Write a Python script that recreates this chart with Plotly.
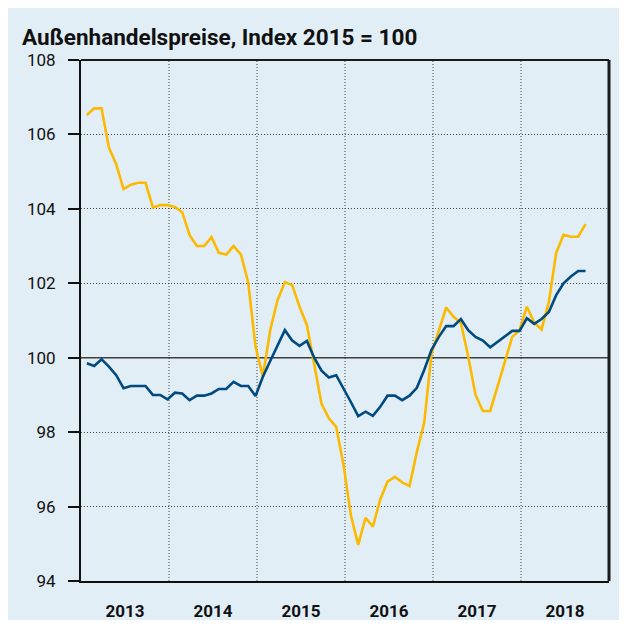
import plotly.graph_objects as go

# Monthly data, Jan 2013 - Sep 2018
years = [2013, 2014, 2015, 2016, 2017, 2018]
months = [f"{y}-{m:02d}" for y in years for m in range(1, 13)][:69]

import_prices = [
    106.52, 106.70, 106.70, 105.65, 105.20, 104.53, 104.65, 104.70, 104.70, 104.04, 104.10, 104.10,
    104.05, 103.91, 103.30, 103.00, 103.00, 103.24, 102.82, 102.77, 103.00, 102.78, 102.02, 100.30,
    99.49, 100.74, 101.55, 102.03, 101.95, 101.37, 100.88, 99.85, 98.76, 98.37, 98.14, 97.12,
    95.77, 94.97, 95.70, 95.46, 96.19, 96.67, 96.80, 96.65, 96.55, 97.47, 98.25, 100.12,
    100.74, 101.35, 101.10, 100.94, 100.03, 99.00, 98.57, 98.57, 99.22, 99.88, 100.56, 100.74,
    101.37, 100.95, 100.76, 101.50, 102.82, 103.30, 103.25, 103.25, 103.59,
]
export_prices = [
    99.85, 99.78, 99.96, 99.76, 99.53, 99.18, 99.24, 99.24, 99.24, 99.00, 99.00, 98.88,
    99.06, 99.04, 98.86, 98.98, 98.98, 99.04, 99.16, 99.16, 99.35, 99.24, 99.24, 98.97,
    99.49, 99.91, 100.34, 100.74, 100.46, 100.32, 100.45, 100.00, 99.65, 99.47, 99.53, 99.18,
    98.81, 98.43, 98.55, 98.44, 98.68, 98.98, 98.98, 98.86, 98.98, 99.19, 99.67, 100.21,
    100.56, 100.85, 100.85, 101.04, 100.74, 100.56, 100.46, 100.28, 100.43, 100.56, 100.72, 100.72,
    101.06, 100.91, 101.04, 101.23, 101.68, 102.00, 102.18, 102.33, 102.33,
]
y_ticks = [94, 96, 98, 100, 102, 104, 106, 108]
year_labels = [str(y) for y in years]

def pos(m):
    y, mo = m.split("-")
    return (int(y) - years[0]) * 12 + (int(mo) - 1) + 0.8

x = [pos(m) for m in months]

YELLOW = "#fbb900"
BLUE = "#004a7f"
BG = "#e2eef6"
DOTS = "1px,2px"

fig = go.Figure()
fig.add_trace(go.Scatter(x=x, y=import_prices, mode="lines",
                         line=dict(color=YELLOW, width=2.6), hoverinfo="skip"))
fig.add_trace(go.Scatter(x=x, y=export_prices, mode="lines",
                         line=dict(color=BLUE, width=2.6), hoverinfo="skip"))

W, H = 612, 612
L, R, T, B = 73, 11, 52, 39

shapes = []
# year boundaries (dotted)
for k in range(1, len(years)):
    shapes.append(dict(type="line", xref="x", yref="paper", x0=12 * k, x1=12 * k, y0=0, y1=1,
                       line=dict(color="#444444", width=1, dash=DOTS), layer="below"))
# 100 line
shapes.append(dict(type="line", xref="paper", yref="y", x0=0, x1=1, y0=100, y1=100,
                   line=dict(color="#3a3a3a", width=1.5), layer="below"))
# top and right frame
shapes.append(dict(type="line", xref="paper", yref="paper", x0=0, x1=1, y0=1, y1=1,
                   line=dict(color="#1a1a1a", width=2)))
shapes.append(dict(type="line", xref="paper", yref="paper", x0=1, x1=1, y0=0, y1=1,
                   line=dict(color="#1a1a1a", width=3)))

font_family = "Roboto, Liberation Sans, sans-serif"

fig.update_layout(
    width=W, height=H,
    margin=dict(l=L, r=R, t=T, b=B, autoexpand=False),
    paper_bgcolor=BG, plot_bgcolor=BG,
    showlegend=False,
    shapes=shapes,
    title=dict(text="<b>Außenhandelspreise, Index 2015 = 100</b>",
               x=14 / W, xanchor="left", xref="container",
               y=1 - 29 / H, yanchor="middle",
               font=dict(family=font_family, size=22.5, color="#111111")),
    font=dict(family=font_family, color="#111111"),
)
fig.update_xaxes(
    range=[0, 72], tickmode="array",
    tickvals=[6 + 12 * k for k in range(len(years))], ticktext=[f"<b>{t}</b>" for t in year_labels],
    ticks="outside", ticklen=0, tickfont=dict(size=17), ticklabelstandoff=14,
    showgrid=False, zeroline=False, automargin=False,
    showline=True, linecolor="#111111", linewidth=2, fixedrange=True,
)
fig.update_yaxes(
    range=[94, 108], tickmode="array", tickvals=y_ticks, ticktext=[str(v) for v in y_ticks],
    ticks="outside", ticklen=11, tickwidth=2, tickcolor="#111111",
    tickfont=dict(size=17), ticklabelstandoff=9, automargin=False,
    showgrid=True, gridcolor="#444444", griddash=DOTS, gridwidth=1,
    zeroline=False, showline=True, linecolor="#111111", linewidth=2, fixedrange=True,
)

fig.write_html("out.html")
